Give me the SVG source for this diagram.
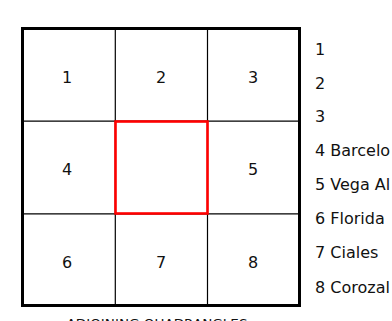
<svg xmlns="http://www.w3.org/2000/svg" width="392" height="321" viewBox="0 0 392 321">
<style>
.t{font-family:"DejaVu Sans","Liberation Sans",sans-serif;font-size:16px;fill:#111}
.c{text-anchor:middle}
.grid{stroke:#000;stroke-width:1.2;fill:none}
</style>
<rect width="392" height="321" fill="#fff"/>
<g id="frame">
<rect x="22.5" y="28.5" width="277" height="277" fill="none" stroke="#000" stroke-width="3"/>
</g>
<g id="gridlines" class="grid">
<line x1="115.3" y1="28.5" x2="115.3" y2="305.5"/>
<line x1="207.5" y1="28.5" x2="207.5" y2="305.5"/>
<line x1="22.5" y1="121.2" x2="299.5" y2="121.2"/>
<line x1="22.5" y1="213.8" x2="299.5" y2="213.8"/>
</g>
<g id="cell1"><text class="t c" x="67" y="83">1</text></g>
<g id="cell2"><text class="t c" x="161" y="83">2</text></g>
<g id="cell3"><text class="t c" x="253" y="83">3</text></g>
<g id="cell4"><text class="t c" x="67" y="175">4</text></g>
<g id="center"><rect x="115.5" y="121.5" width="92" height="92" fill="none" stroke="#f00" stroke-width="2.6"/></g>
<g id="cell5"><text class="t c" x="253" y="175">5</text></g>
<g id="cell6"><text class="t c" x="67" y="268">6</text></g>
<g id="cell7"><text class="t c" x="161" y="268">7</text></g>
<g id="cell8"><text class="t c" x="253" y="268">8</text></g>
<g id="legend">
<text class="t" x="315" y="55">1</text>
<text class="t" x="315" y="89">2</text>
<text class="t" x="315" y="122">3</text>
<text class="t" x="315" y="156">4 Barcelo</text>
<text class="t" x="315" y="190">5 Vega Al</text>
<text class="t" x="315" y="224">6 Florida</text>
<text class="t" x="315" y="258">7 Ciales</text>
<text class="t" x="315" y="293">8 Corozal</text>
</g>
<g id="caption">
<text class="t c" x="157" y="328" style="font-size:12.5px" textLength="181" lengthAdjust="spacingAndGlyphs">ADJOINING QUADRANGLES</text>
</g>
</svg>
